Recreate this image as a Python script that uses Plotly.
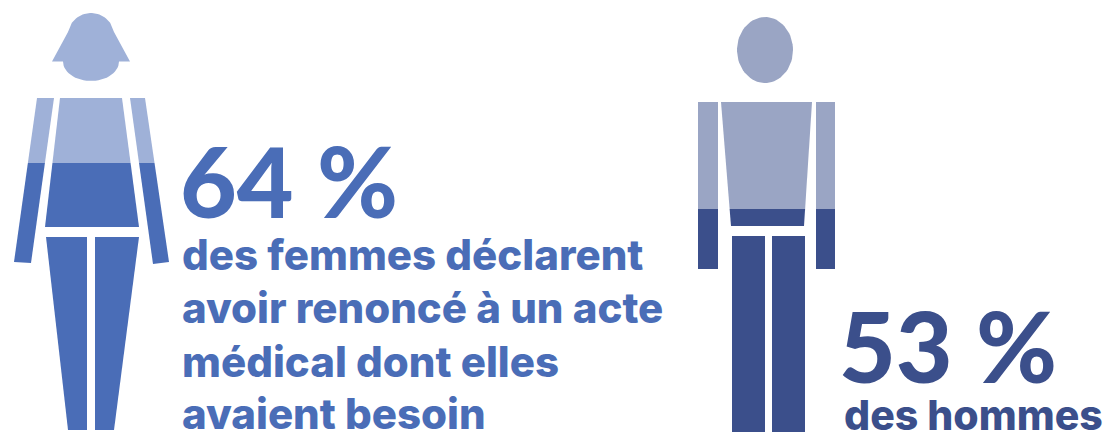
import numpy as np
import plotly.graph_objects as go

# Share of each group reporting a forgone medical procedure
groups = ["femmes", "hommes"]
shares = [64, 53]
share_labels = ["64 %", "53 %"]
woman_caption = [
    "des femmes déclarent",
    "avoir renoncé à un acte",
    "médical dont elles",
    "avaient besoin",
]
man_caption = ["des hommes"]

WOMAN_LIGHT, WOMAN_DARK = "#9fb1d8", "#4a6db7"
MAN_LIGHT, MAN_DARK = "#9aa5c4", "#3b4f8b"
W, H = 1107, 434

# Shared vertical scale on the canvas: 0 % at the feet, 100 % at the top of the head
FEET, TOP = 430, 13


def arc(cx, cy, rx, ry, start, stop, n=40):
    t = np.radians(np.linspace(start, stop, n))
    return list(zip(cx + rx * np.cos(t), cy + ry * np.sin(t)))


# Body parts in canvas pixels (y downwards)
woman_parts = [
    [(52, 61.5), (58, 50), (64, 39), (68, 32)] + arc(91, 40, 25, 27, 220, 320, 24)
    + [(114, 32), (118, 39), (124, 50), (130, 61.5)] + arc(91, 61.5, 28, 19.5, 0, 180, 30),
    [(37, 98), (54, 98), (31, 263), (14, 262)],
    [(130, 98), (145, 98), (169, 262), (153, 264)],
    [(60, 98), (122, 98), (139, 227), (45, 227)],
    [(46, 237), (87, 237), (87, 430), (68, 430)],
    [(95, 237), (139, 237), (114, 430), (95, 430)],
]
man_parts = [
    arc(765, 50, 28, 33, 0, 360, 72),
    [(698, 102), (718, 102), (718, 269), (698, 269)],
    [(816, 102), (835, 102), (835, 269), (816, 269)],
    [(721, 102), (812, 102), (804, 226), (731, 226)],
    [(732, 236), (765, 236), (765, 432), (732, 432)],
    [(772, 236), (805, 236), (805, 432), (772, 432)],
]


def to_percent(part):
    return [(x, (FEET - y) / (FEET - TOP) * 100) for x, y in part]


def clip(poly, level, keep_below):
    """Cut a polygon along a horizontal level, keeping one side of it."""
    inside = (lambda p: p[1] <= level) if keep_below else (lambda p: p[1] >= level)
    out = []
    for i, cur in enumerate(poly):
        prev = poly[i - 1]
        if inside(cur) != inside(prev):
            f = (level - prev[1]) / (cur[1] - prev[1])
            out.append((prev[0] + f * (cur[0] - prev[0]), level))
        if inside(cur):
            out.append(cur)
    return out


def add_part(fig, poly, color):
    if not poly:
        return
    xs, ys = zip(*poly)
    fig.add_trace(go.Scatter(
        x=list(xs) + [xs[0]], y=list(ys) + [ys[0]], mode="lines",
        fill="toself", fillcolor=color, line=dict(width=0), hoverinfo="skip", showlegend=False,
    ))


fig = go.Figure()
figures = [
    (woman_parts, shares[0], WOMAN_LIGHT, WOMAN_DARK),
    (man_parts, shares[1], MAN_LIGHT, MAN_DARK),
]
for parts, share, light, dark in figures:
    for part in parts:
        poly = to_percent(part)
        add_part(fig, clip(poly, share, False), light)
        add_part(fig, clip(poly, share, True), dark)


def label(text, x, baseline, size, color, family, weight):
    # Baseline given in canvas pixels, converted to a paper position
    fig.add_annotation(
        text=text, x=x, y=1 - baseline / H, xref="x", yref="paper", xanchor="left", yanchor="bottom",
        showarrow=False, borderpad=0, align="left",
        font=dict(family=family, size=size, color=color, weight=weight),
        yshift=-size * 0.24,
    )


label(share_labels[0], 179, 216, 98, WOMAN_DARK, "Lato", 900)
for line, base in zip(woman_caption, [271, 324, 378, 430]):
    label(line, 181, base, 42, WOMAN_DARK, "Inter", 800)
label(share_labels[1], 838, 381, 98, MAN_DARK, "Lato", 900)
label(man_caption[0], 843, 431, 41, MAN_DARK, "Inter", 800)

per_px = 100 / (FEET - TOP)
hidden = dict(visible=False, showgrid=False, zeroline=False, fixedrange=True)
fig.update_layout(
    width=W, height=H, margin=dict(l=0, r=0, t=0, b=0),
    paper_bgcolor="white", plot_bgcolor="white", showlegend=False,
    xaxis=dict(range=[0, W], **hidden),
    yaxis=dict(range=[(FEET - H) * per_px, FEET * per_px], **hidden),
)
fig.write_html("out.html", config={"displayModeBar": False})
